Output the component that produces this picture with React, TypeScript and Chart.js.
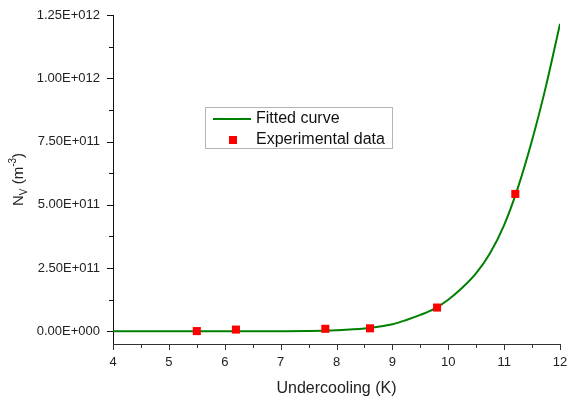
import { useEffect, useRef } from "react";
import { Chart, registerables } from "chart.js";

Chart.register(...registerables);

const fitX = [4, 5, 6, 7, 7.5, 8, 8.5, 8.75, 9, 9.25, 9.5, 9.75, 10, 10.25, 10.5, 10.75, 11, 11.25, 11.5, 11.75, 12];
const fitY = [0, 0, 0, 0.5e9, 1.5e9, 4.5e9, 1.1e10, 1.8e10, 2.8e10, 4.5e10, 6.5e10, 8.9e10, 1.25e11, 1.72e11, 2.3e11, 3.1e11, 4.2e11, 5.7e11, 7.55e11, 9.7e11, 1.215e12];
const expX = [5.5, 6.2, 7.8, 8.6, 9.8, 11.2];
const expY = [1e9, 7e9, 1.0e10, 1.2e10, 9.4e10, 5.43e11];
const xTicks = [4, 5, 6, 7, 8, 9, 10, 11, 12];
const yTicks = [0, 2.5e11, 5e11, 7.5e11, 1e12, 1.25e12];
const yTickLabels = ["0.00E+000", "2.50E+011", "5.00E+011", "7.50E+011", "1.00E+012", "1.25E+012"];
const seriesNames = ["Fitted curve", "Experimental data"];
const xTitle = "Undercooling (K)";

const GREEN = "#008000";
const RED = "#ff0000";
const FONT = "'Liberation Sans', Arial, sans-serif";

const decorPlugin = {
  id: "decor",
  afterDraw(chart: any) {
    const ctx = chart.ctx as CanvasRenderingContext2D;
    const xs = chart.scales.x;
    const ys = chart.scales.y;
    const area = chart.chartArea;
    ctx.save();
    ctx.strokeStyle = "#333";
    ctx.lineWidth = 1;
    for (let i = 0; i < xTicks.length; i++) {
      const v = xTicks[i];
      const px = Math.round(xs.getPixelForValue(v)) + 0.5;
      ctx.beginPath();
      ctx.moveTo(px, area.bottom);
      ctx.lineTo(px, area.bottom + 6);
      ctx.stroke();
      if (i < xTicks.length - 1) {
        const m = (v + xTicks[i + 1]) / 2;
        const pm = Math.round(xs.getPixelForValue(m)) + 0.5;
        ctx.beginPath();
        ctx.moveTo(pm, area.bottom);
        ctx.lineTo(pm, area.bottom + 4);
        ctx.stroke();
      }
    }
    ctx.strokeStyle = "#111";
    for (let i = 0; i < yTicks.length; i++) {
      const v = yTicks[i];
      const py = Math.round(ys.getPixelForValue(v)) + 0.5;
      ctx.beginPath();
      ctx.moveTo(area.left, py);
      ctx.lineTo(area.left - 6, py);
      ctx.stroke();
      if (i < yTicks.length - 1) {
        const m = (v + yTicks[i + 1]) / 2;
        const pm = Math.round(ys.getPixelForValue(m)) + 0.5;
        ctx.beginPath();
        ctx.moveTo(area.left, pm);
        ctx.lineTo(area.left - 4, pm);
        ctx.stroke();
      }
    }
    ctx.fillStyle = "#222";
    ctx.font = `16px ${FONT}`;
    ctx.textAlign = "center";
    ctx.textBaseline = "middle";
    ctx.fillText(xTitle, (area.left + area.right) / 2, 389);
    ctx.save();
    ctx.translate(18, (area.top + area.bottom) / 2);
    ctx.rotate(-Math.PI / 2);
    ctx.textAlign = "left";
    ctx.textBaseline = "alphabetic";
    const big = `15px ${FONT}`;
    const small = `10px ${FONT}`;
    const parts: [string, string, number][] = [
      ["N", big, 0],
      ["V", small, 4],
      [" (m", big, 0],
      ["-3", small, -7],
      [")", big, 0],
    ];
    let total = 0;
    for (const [t, f] of parts) {
      ctx.font = f;
      total += ctx.measureText(t).width;
    }
    let cx = -total / 2;
    for (const [t, f, dy] of parts) {
      ctx.font = f;
      ctx.fillText(t, cx, 5 + dy);
      cx += ctx.measureText(t).width;
    }
    ctx.restore();
    ctx.fillStyle = "#fff";
    ctx.fillRect(205.5, 107.5, 187, 41);
    ctx.strokeStyle = "#b5b5b5";
    ctx.lineWidth = 1;
    ctx.strokeRect(205.5, 107.5, 187, 41);
    ctx.strokeStyle = GREEN;
    ctx.lineWidth = 2;
    ctx.beginPath();
    ctx.moveTo(213, 119);
    ctx.lineTo(251, 119);
    ctx.stroke();
    ctx.fillStyle = RED;
    ctx.fillRect(229, 136, 8, 8);
    ctx.fillStyle = "#111";
    ctx.font = `16px ${FONT}`;
    ctx.textAlign = "left";
    ctx.textBaseline = "middle";
    ctx.fillText(seriesNames[0], 256, 119);
    ctx.fillText(seriesNames[1], 256, 140);
    ctx.restore();
  },
};

export default function App() {
  const ref = useRef<HTMLCanvasElement | null>(null);
  useEffect(() => {
    document.body.style.margin = "0";
    const canvas = ref.current!;
    const chart = new Chart(canvas, {
      type: "line",
      data: {
        datasets: [
          {
            label: seriesNames[0],
            data: fitX.map((x, i) => ({ x, y: fitY[i] })),
            borderColor: GREEN,
            backgroundColor: GREEN,
            borderWidth: 2,
            pointRadius: 0,
            cubicInterpolationMode: "monotone",
            fill: false,
            order: 2,
          },
          {
            label: seriesNames[1],
            data: expX.map((x, i) => ({ x, y: expY[i] })),
            showLine: false,
            pointStyle: "rect",
            pointRadius: 5.7,
            pointBorderWidth: 0,
            pointBackgroundColor: RED,
            pointBorderColor: RED,
            order: 1,
          },
        ],
      },
      options: {
        animation: false,
        responsive: false,
        layout: { padding: { left: 0, right: 7, top: 15, bottom: 0 } },
        plugins: { legend: { display: false }, tooltip: { enabled: false } },
        scales: {
          x: {
            type: "linear",
            min: 4,
            max: 12,
            grid: { display: false, drawTicks: false },
            border: { display: true, color: "#333", width: 1 },
            ticks: {
              font: { size: 13, family: FONT },
              color: "#222",
              padding: 11,
              autoSkip: false,
              maxRotation: 0,
              callback: (v: any) => String(v),
            },
            afterBuildTicks: (s: any) => {
              s.ticks = xTicks.map((v) => ({ value: v }));
            },
            afterFit: (s: any) => {
              s.height = 56;
              s.paddingLeft = 0;
              s.paddingRight = 0;
            },
          },
          y: {
            type: "linear",
            min: -5e10,
            max: 1.25e12,
            grid: { display: false, drawTicks: false },
            border: { display: true, color: "#111", width: 1 },
            ticks: {
              font: { size: 13, family: FONT },
              color: "#222",
              padding: 13,
              autoSkip: false,
              callback: (v: any) => {
                const i = yTicks.indexOf(Number(v));
                return i >= 0 ? yTickLabels[i] : "";
              },
            },
            afterBuildTicks: (s: any) => {
              s.ticks = yTicks.map((v) => ({ value: v }));
            },
            afterFit: (s: any) => {
              s.width = 113;
              s.paddingTop = 0;
              s.paddingBottom = 0;
            },
          },
        },
      },
      plugins: [decorPlugin],
    } as any);
    return () => chart.destroy();
  }, []);
  return <canvas ref={ref} width={567} height={400} style={{ display: "block" }} />;
}
